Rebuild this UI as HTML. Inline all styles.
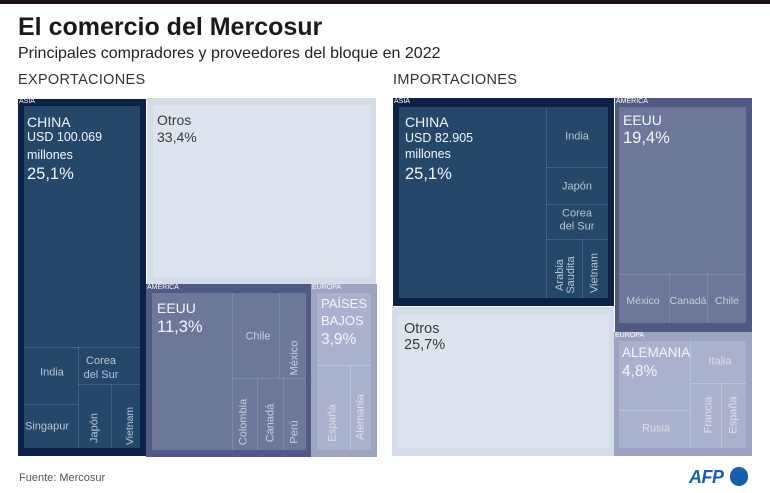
<!DOCTYPE html>
<html><head><meta charset="utf-8">
<style>
*{margin:0;padding:0;box-sizing:border-box}
body{width:770px;height:493px;background:#fff;position:relative;overflow:hidden;font-family:"Liberation Sans",sans-serif}
.r{position:absolute}
.t{position:absolute;white-space:nowrap;line-height:1;font-family:"Liberation Sans",sans-serif}
.c{transform:translate(-50%,-50%);text-align:center}
.v{transform:translate(-50%,-50%) rotate(-90deg);text-align:center}
.rg{font-size:7px;color:#fff}
.w{color:#f4f6f9}
.sa{color:#b9c6d5;font-size:11px}
.sm{color:#c9cee0;font-size:11px}
.se{color:#dce0eb;font-size:11px}
.la{background:rgba(255,255,255,0.14)}
.lm{background:rgba(255,255,255,0.13)}
.le{background:rgba(255,255,255,0.22)}
.o{color:#3a3a3a}
</style></head><body>
<div class="r" style="left:0;top:0;width:770px;height:4px;background:#1c1411"></div>
<div class="t" style="left:18px;top:15px;font-size:25px;font-weight:bold;color:#1a1a1a">El comercio del Mercosur</div>
<div class="t" style="left:18px;top:45.5px;font-size:16px;color:#222">Principales compradores y proveedores del bloque en 2022</div>
<div class="t" style="left:18px;top:73.3px;font-size:14.5px;color:#333;letter-spacing:0.3px">EXPORTACIONES</div>
<div class="t" style="left:393px;top:73.3px;font-size:14.5px;color:#333;letter-spacing:0.3px">IMPORTACIONES</div>

<!-- EXPORTS: ASIA -->
<div class="r" style="left:18px;top:99px;width:128px;height:357px;background:#0c2148"></div>
<div class="r" style="left:24px;top:106px;width:116px;height:342px;background:#24476a"></div>
<div class="r la" style="left:24px;top:347px;width:116px;height:1px"></div>
<div class="r la" style="left:78px;top:347px;width:1px;height:101px"></div>
<div class="r la" style="left:24px;top:404px;width:54px;height:1px"></div>
<div class="r la" style="left:78px;top:384px;width:62px;height:1px"></div>
<div class="r la" style="left:111px;top:384px;width:1px;height:64px"></div>
<div class="t rg" style="left:19px;top:98px">ASIA</div>
<div class="t w" style="left:27px;top:115.1px;font-size:14px">CHINA</div>
<div class="t w" style="left:27px;top:131.4px;font-size:12.5px">USD 100.069</div>
<div class="t w" style="left:27px;top:149.4px;font-size:12.5px">millones</div>
<div class="t w" style="left:27px;top:166px;font-size:16.5px">25,1%</div>
<div class="t c sa" style="left:52px;top:373px">India</div>
<div class="t c sa" style="left:101px;top:367.5px;line-height:14px">Corea<br>del Sur</div>
<div class="t c sa" style="left:47px;top:427px">Singapur</div>
<div class="t v sa" style="left:95px;top:428px">Japón</div>
<div class="t v sa" style="left:130px;top:426px;font-size:10.5px">Vietnam</div>

<!-- EXPORTS: OTROS -->
<div class="r" style="left:147px;top:98px;width:229px;height:186px;background:#d3dce7"></div>
<div class="r" style="left:153px;top:105px;width:217px;height:172px;background:#dce4ee"></div>
<div class="t o" style="left:157px;top:113.1px;font-size:14px">Otros</div>
<div class="t o" style="left:157px;top:130.1px;font-size:14px">33,4%</div>

<!-- EXPORTS: AMERICA -->
<div class="r" style="left:146px;top:284px;width:165px;height:173px;background:#4f5b85"></div>
<div class="r" style="left:152px;top:293px;width:154px;height:157px;background:#6c7799"></div>
<div class="r lm" style="left:232px;top:293px;width:1px;height:157px"></div>
<div class="r lm" style="left:232px;top:378px;width:74px;height:1px"></div>
<div class="r lm" style="left:279px;top:293px;width:1px;height:85px"></div>
<div class="r lm" style="left:257px;top:378px;width:1px;height:72px"></div>
<div class="r lm" style="left:283px;top:378px;width:1px;height:72px"></div>
<div class="t rg" style="left:147px;top:284px">AMÉRICA</div>
<div class="t w" style="left:157px;top:301.1px;font-size:14px">EEUU</div>
<div class="t w" style="left:157px;top:319px;font-size:16.5px">11,3%</div>
<div class="t c sm" style="left:258px;top:337px">Chile</div>
<div class="t v sm" style="left:295px;top:358px">México</div>
<div class="t v sm" style="left:244px;top:422px">Colombia</div>
<div class="t v sm" style="left:271px;top:423px">Canadá</div>
<div class="t v sm" style="left:295px;top:432px">Perú</div>

<!-- EXPORTS: EUROPA -->
<div class="r" style="left:311px;top:284px;width:66px;height:173px;background:#9ca4c2"></div>
<div class="r" style="left:317px;top:293px;width:54px;height:157px;background:#aab1cc"></div>
<div class="r le" style="left:317px;top:365px;width:54px;height:1px"></div>
<div class="r le" style="left:350px;top:365px;width:1px;height:85px"></div>
<div class="t rg" style="left:312px;top:284px">EUROPA</div>
<div class="t w" style="left:321px;top:297px;font-size:13px">PAÍSES</div>
<div class="t w" style="left:321px;top:314px;font-size:13px">BAJOS</div>
<div class="t w" style="left:321px;top:332px;font-size:15.5px">3,9%</div>
<div class="t v se" style="left:333px;top:423px">España</div>
<div class="t v se" style="left:361px;top:417px">Alemania</div>

<!-- IMPORTS: ASIA -->
<div class="r" style="left:393px;top:98px;width:221px;height:208px;background:#0c2148"></div>
<div class="r" style="left:399px;top:107px;width:209px;height:191px;background:#24476a"></div>
<div class="r la" style="left:546px;top:107px;width:1px;height:191px"></div>
<div class="r la" style="left:546px;top:167px;width:62px;height:1px"></div>
<div class="r la" style="left:546px;top:204px;width:62px;height:1px"></div>
<div class="r la" style="left:546px;top:239px;width:62px;height:1px"></div>
<div class="r la" style="left:582px;top:239px;width:1px;height:59px"></div>
<div class="t rg" style="left:394px;top:98px">ASIA</div>
<div class="t w" style="left:405px;top:115.1px;font-size:14px">CHINA</div>
<div class="t w" style="left:405px;top:132.4px;font-size:12.5px">USD 82.905</div>
<div class="t w" style="left:405px;top:148.4px;font-size:12.5px">millones</div>
<div class="t w" style="left:405px;top:166px;font-size:16.5px">25,1%</div>
<div class="t c sa" style="left:577px;top:137px">India</div>
<div class="t c sa" style="left:577px;top:187px">Japón</div>
<div class="t c sa" style="left:577px;top:220.5px;line-height:13.5px">Corea<br>del Sur</div>
<div class="t v sa" style="left:566px;top:275px;line-height:11px">Arabia<br>Saudita</div>
<div class="t v sa" style="left:595px;top:273px">Vietnam</div>

<!-- IMPORTS: AMERICA -->
<div class="r" style="left:615px;top:98px;width:137px;height:234px;background:#4f5b85"></div>
<div class="r" style="left:619px;top:107px;width:127px;height:216px;background:#6c7799"></div>
<div class="r lm" style="left:619px;top:274px;width:127px;height:1px"></div>
<div class="r lm" style="left:669px;top:274px;width:1px;height:49px"></div>
<div class="r lm" style="left:707px;top:274px;width:1px;height:49px"></div>
<div class="t rg" style="left:616px;top:98px">AMÉRICA</div>
<div class="t w" style="left:623px;top:113.1px;font-size:14px">EEUU</div>
<div class="t w" style="left:623px;top:130px;font-size:16.5px">19,4%</div>
<div class="t c sm" style="left:643px;top:301px;font-size:10.5px">México</div>
<div class="t c sm" style="left:688px;top:301px;font-size:10.5px">Canadá</div>
<div class="t c sm" style="left:727px;top:301px;font-size:10.5px">Chile</div>

<!-- IMPORTS: OTROS -->
<div class="r" style="left:392px;top:307px;width:222px;height:149px;background:#d3dce7"></div>
<div class="r" style="left:398px;top:315px;width:211px;height:133px;background:#dce4ee"></div>
<div class="t o" style="left:404px;top:322.3px;font-size:14.5px">Otros</div>
<div class="t o" style="left:404px;top:337.7px;font-size:14.5px">25,7%</div>

<!-- IMPORTS: EUROPA -->
<div class="r" style="left:614px;top:332px;width:138px;height:124px;background:#9ca4c2"></div>
<div class="r" style="left:619px;top:341px;width:127px;height:107px;background:#aab1cc"></div>
<div class="r le" style="left:690px;top:341px;width:1px;height:107px"></div>
<div class="r le" style="left:619px;top:410px;width:71px;height:1px"></div>
<div class="r le" style="left:690px;top:383px;width:56px;height:1px"></div>
<div class="r le" style="left:721px;top:383px;width:1px;height:65px"></div>
<div class="t rg" style="left:615px;top:332px">EUROPA</div>
<div class="t w" style="left:622px;top:345.6px;font-size:13.5px">ALEMANIA</div>
<div class="t w" style="left:622px;top:363.9px;font-size:15.5px">4,8%</div>
<div class="t c se" style="left:720px;top:362px">Italia</div>
<div class="t c se" style="left:656px;top:429px">Rusia</div>
<div class="t v se" style="left:709px;top:415px">Francia</div>
<div class="t v se" style="left:734px;top:415px">España</div>

<!-- FOOTER -->
<div class="t" style="left:19px;top:472.7px;font-size:11px;color:#555">Fuente: Mercosur</div>
<div class="t" style="left:689px;top:467.8px;font-size:18px;font-weight:bold;font-style:italic;color:#155fad;letter-spacing:-0.5px">AFP</div>
<div class="r" style="left:729.7px;top:467.2px;width:18.6px;height:18.6px;border-radius:50%;background:#155fad"></div>
</body></html>
